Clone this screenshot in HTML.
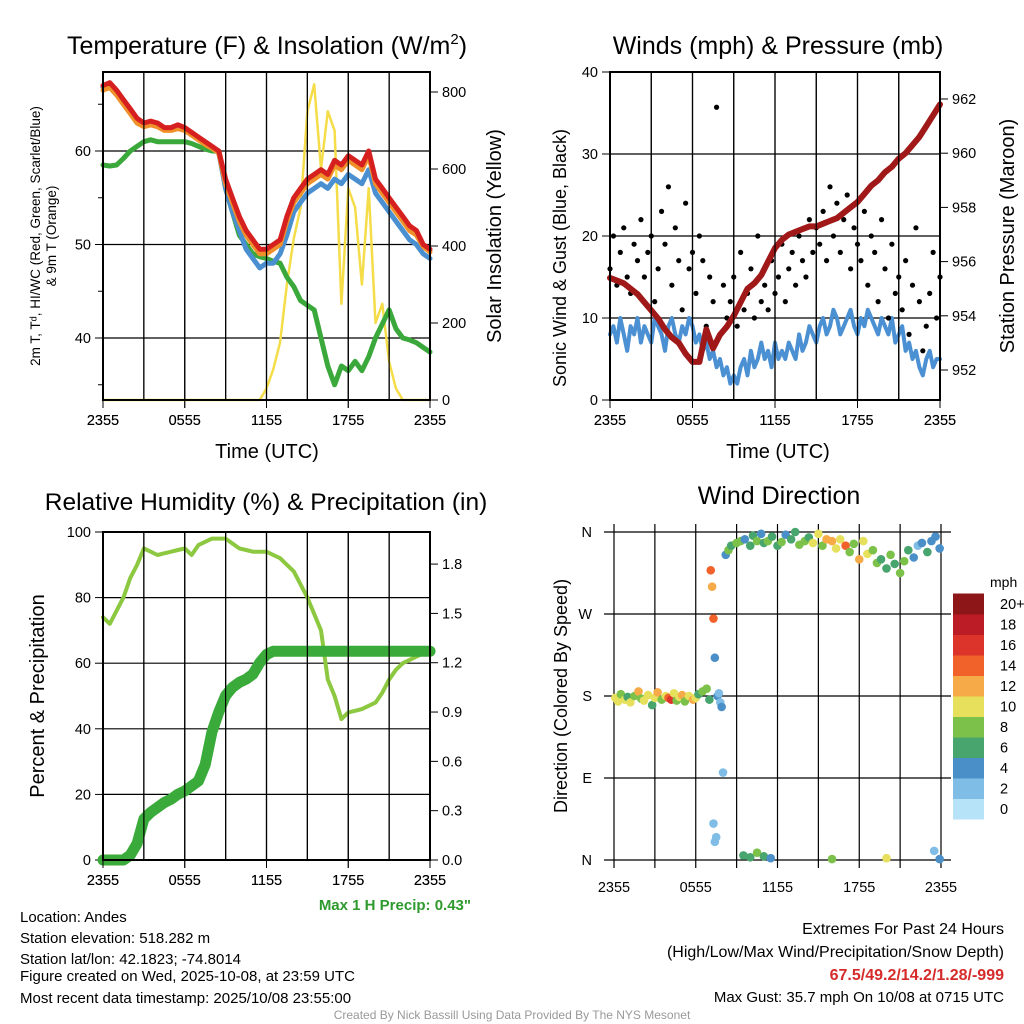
<!DOCTYPE html>
<html><head><meta charset="utf-8"><style>
body{margin:0;background:#fff;}
svg{display:block;font-family:"Liberation Sans",sans-serif;}
</style></head><body>
<svg id="s" width="1024" height="1024" viewBox="0 0 1024 1024">
<text x="267" y="54" font-size="25" text-anchor="middle">Temperature (F) &amp; Insolation (W/m<tspan font-size="15" dy="-10">2</tspan><tspan dy="10">)</tspan></text>
<text x="778" y="54" font-size="25" text-anchor="middle">Winds (mph) &amp; Pressure (mb)</text>
<text x="266" y="510" font-size="24.5" text-anchor="middle">Relative Humidity (%) &amp; Precipitation (in)</text>
<text x="779" y="504" font-size="25" text-anchor="middle">Wind Direction</text>
<g id="g"></g>
<text x="20" y="922" font-size="15">Location: Andes</text>
<text x="20" y="943" font-size="15">Station elevation: 518.282 m</text>
<text x="20" y="964" font-size="15">Station lat/lon: 42.1823; -74.8014</text>
<text x="20" y="981" font-size="15">Figure created on Wed, 2025-10-08, at 23:59 UTC</text>
<text x="20" y="1003" font-size="15">Most recent data timestamp: 2025/10/08 23:55:00</text>
<text x="471" y="910" font-size="15" font-weight="bold" fill="#2e9a2e" text-anchor="end">Max 1 H Precip: 0.43"</text>
<text x="1004" y="934" font-size="16" text-anchor="end">Extremes For Past 24 Hours</text>
<text x="1004" y="957" font-size="16" text-anchor="end">(High/Low/Max Wind/Precipitation/Snow Depth)</text>
<text x="1004" y="980" font-size="16" font-weight="bold" fill="#d52b2b" text-anchor="end">67.5/49.2/14.2/1.28/-999</text>
<text x="1004" y="1002" font-size="15" text-anchor="end">Max Gust: 35.7 mph On 10/08 at 0715 UTC</text>
<text x="512" y="1019" font-size="12" fill="#999" text-anchor="middle">Created By Nick Bassill Using Data Provided By The NYS Mesonet</text>
</svg>
<script>
// ---- data (half-hourly, hours since 2355) ----
const tempRed=[67,67.3,66.5,65.5,64.5,63.5,63,63.2,63,62.5,62.5,62.8,62.5,62,61.5,61,60.5,60,57,55,53,51.5,50.5,49.5,49.5,50,50.5,53,55,56,57,57.5,58,57.5,59,58.5,59.5,59,58.5,60,57,56,55,54,53,52,51.5,50,49.5];
const tempOrange=[66.5,66.8,66,65,64,63,62.6,62.8,62.6,62.2,62.2,62.4,62.2,61.7,61.2,60.7,60.3,59.8,56.5,54.5,52.5,51,50,49,49,49.5,50,52.5,54.5,55.5,56.5,57,57.5,57,58.5,58,59,58.5,58,59.5,56.5,55.5,54.5,53.5,52.5,51.5,51,49.8,49.2];
const tempBlue=[66.8,67,66.2,65.2,64.2,63.2,62.8,63,62.8,62.3,62.3,62.6,62.3,61.8,61.3,60.8,60.3,59.8,56,53.5,51.5,49.5,48.5,47.5,48,48,49,51,53.5,54.5,55.5,56,56.5,56,57,56.5,57.5,57,56.5,58,55.5,54.5,53.5,52.5,51.5,50.5,50,49,48.5];
const tempGreen=[58.5,58.4,58.5,59.2,60,60.5,61,61.2,61,61,61,61,61,60.8,60.5,60.2,60,60,56,53.5,51,50,49,48.7,48.5,48.2,48,46.5,45.5,44,43.5,43,40,37,35,37,36.5,37.5,36.5,38,40,41.5,43,41,40,39.8,39.5,39,38.5];
const solar=[0,0,0,0,0,0,0,0,0,0,0,0,0,0,0,0,0,0,0,0,0,0,0,0,30,80,150,300,420,500,750,820,600,750,700,250,550,500,300,550,200,250,100,30,0,0,0,0,0];
const pressure=[955.4,955.3,955.2,955,954.8,954.5,954.2,953.9,953.5,953.2,953,952.6,952.3,952.3,953.5,952.8,953.3,953.6,954,954.5,955,955.2,955.5,956,956.5,956.8,957,957.1,957.2,957.3,957.3,957.4,957.5,957.6,957.8,958,958.2,958.5,958.8,959,959.3,959.5,959.8,960,960.3,960.6,961,961.4,961.8];
const rh=[74,72,76,80,86,90,95,94,93,93.5,94,94.5,95,93,96,97,98,98,98,96.5,95,94.5,94,94,94,93,92,90,88,84,80,75,70,55,50,43,45,45.5,46,47,48,51,55,58,60,61,62,63,64];
const precip=[0,0,0,0,0.03,0.1,0.25,0.29,0.32,0.35,0.37,0.4,0.42,0.45,0.48,0.58,0.78,0.9,1.0,1.05,1.08,1.1,1.13,1.2,1.25,1.27,1.27,1.27,1.27,1.27,1.27,1.27,1.27,1.27,1.27,1.27,1.27,1.27,1.27,1.27,1.27,1.27,1.27,1.27,1.27,1.27,1.27,1.27,1.27];
// quarter-hourly winds
const wind=[8,9,7,10,8,6,9,8,10,7,9,8,7,10,9,8,6,9,10,8,7,9,8,10,9,7,8,6,7,5,6,4,5,3,4,2,3,2,4,5,3,6,4,5,7,5,6,4,7,5,6,5,7,6,5,8,6,7,9,8,7,9,10,8,9,11,10,8,9,10,11,9,8,10,9,11,10,9,8,10,9,8,10,7,8,9,6,7,5,6,4,3,5,6,4,5,5];
const gust=[16,20,14,18,21,15,13,19,17,22,15,18,20,12,16,23,19,26,14,21,17,11,24,16,18,13,20,17,9,15,12,35.7,8,14,10,12,15,9,18,11,13,16,10,20,12,14,11,17,13,15,19,12,16,18,14,20,17,15,22,18,21,19,23,17,26,20,24,18,22,25,16,21,19,17,23,14,20,18,12,22,16,10,19,13,15,11,17,8,14,21,12,6,9,13,18,10,15];
const dirT=[0.1,0.3,0.5,0.8,1,1.2,1.5,1.8,2,2.2,2.5,2.8,3,3.2,3.5,3.8,4,4.2,4.4,4.6,4.8,5,5.2,5.5,5.8,6,6.2,6.5,6.8,7,7.1,7.2,7.3,7.4,7.6,7.7,7.8,7.9,8,8.2,8.4,8.6,9,9.3,9.6,10,10.2,10.5,10.8,11,11.3,11.6,12,12.3,12.6,13,13.3,13.6,14,14.3,14.6,15,15.3,15.6,16,16.3,16.6,17,17.3,17.6,18,18.3,18.6,19,19.3,19.6,20,20.3,20.6,21,21.3,21.6,22,22.3,22.6,23,23.3,23.6,23.9,9.5,10,10.5,11,11.5,16,20,23.5,23.9,7.3,7.4,7.5];
const dirV=[178,174,182,176,179,173,180,185,177,175,181,170,178,184,176,180,178,176,183,175,179,181,174,180,176,178,182,185,188,176,318,300,265,222,180,183,173,168,96,335,340,345,348,350,352,345,356,350,358,348,350,355,345,349,357,352,360,346,350,354,348,358,345,352,350,342,352,345,338,347,330,350,336,340,326,330,320,335,325,315,328,340,332,345,348,338,350,355,342,5,3,8,4,2,1,2,10,1,40,20,25];
const dirS=[9,10,7,9,6,10,8,11,7,9,10,6,10,11,8,9,13,15,10,7,9,11,8,10,12,9,6,8,7,5,14,12,13,4,4,2,1,3,2,3,7,6,7,8,4,6,5,7,4,6,8,5,6,7,4,6,5,8,7,6,9,10,8,11,12,10,9,13,8,7,12,10,9,7,7,6,5,8,6,8,7,6,4,2,4,5,4,3,4,6,5,7,6,3,8,10,2,4,2,1,2];
const dirLabels=['N','E','S','W','N'];
const speedColors=['#b6e3f8','#7fbde6','#4a8fc7','#48a56e','#7cc24a','#e6e05c','#f7ab48','#f0622a','#dc342a','#bb1c25','#8d1618'];
const speedLabels=['0','2','4','6','8','10','12','14','16','18','20+'];

const NS='http://www.w3.org/2000/svg';
const G=document.getElementById('g');
function mk(tag,at,parent){const e=document.createElementNS(NS,tag);for(const k in at)e.setAttribute(k,at[k]);(parent||G).appendChild(e);return e;}
function txt(x,y,s,size,anchor,extra){const e=mk('text',Object.assign({x:x,y:y,'font-size':size,'text-anchor':anchor||'middle'},extra||{}));e.textContent=s;return e;}
const half=i=>i*0.5, qtr=i=>i*0.25;
const xlabels=['2355','0555','1155','1755','2355'];

function frame(x0,x1,y0,y1,name,box){
  for(let h=3;h<24;h+=3){const x=x0+(x1-x0)*h/24;const l=mk('line',{x1:x,x2:x,y1:y0,y2:y1,stroke:'#000','stroke-width':1.2});
  
  }
  for(let i=0;i<5;i++){const x=x0+(x1-x0)*i/4;const l=mk('line',{x1:x,x2:x,y1:y1,y2:y1+8,stroke:'#000','stroke-width':1});
  
  
  const t=txt(x,y1+25,xlabels[i],14.5);
  
  }
  if(box){const r=mk('rect',{x:x0,y:y0,width:x1-x0,height:y1-y0,fill:'none',stroke:'#000','stroke-width':2});
  
  }
}
function hline(x0,x1,y){const l=mk('line',{x1:x0,x2:x1,y1:y,y2:y,stroke:'#000','stroke-width':1.2});

}
function ytick(x,y,s,side){const d=side<0?-8:8;const l=mk('line',{x1:x,x2:x+d,y1:y,y2:y,stroke:'#000'});


const t=txt(x+(side<0?-12:12),y+5,s,14.5,side<0?'end':'start');

}
function path(arr,tf,xs,ys,color,w,name){let d='';arr.forEach((v,i)=>{d+=(i?'L':'M')+xs(tf(i)).toFixed(1)+','+ys(v).toFixed(1);});
const p=mk('path',{d:d,fill:'none',stroke:color,'stroke-width':w,'stroke-linejoin':'round','stroke-linecap':'round'});

return p;}

// ---- Panel 1 ----
{const x0=103,x1=430,y0=72,y1=400;
const xs=h=>x0+(x1-x0)*h/24;
const ys=v=>151+(60-v)*9.35;
const ysr=v=>400-v*0.385;
[60,50,40].forEach(v=>{hline(x0,x1,ys(v));ytick(x0,ys(v),String(v),-1);});
[65,55,45,35].forEach(v=>{const l=mk('line',{x1:x0,x2:x0-5,y1:ys(v),y2:ys(v),stroke:'#000'});});
[0,200,400,600,800].forEach(v=>ytick(x1,ysr(v),String(v),1));
frame(x0,x1,y0,y1,'temp',false);
path(solar,half,xs,ysr,'#f5dd4a',2.5,'solar-line');
path(tempGreen,half,xs,ys,'#3aa83a',5,'dewpoint-line');
path(tempBlue,half,xs,ys,'#4a8fd0',5,'windchill-line');
path(tempOrange,half,xs,ys,'#f0902a',5,'temp9m-line');
path(tempRed,half,xs,ys,'#d62020',5,'temp2m-line');
frame(x0,x1,y0,y1,'temp',true);
let t=txt(267,458,'Time (UTC)',20);
t=mk('text',{x:0,y:0,'font-size':13.5,'text-anchor':'middle',transform:'translate(40,236) rotate(-90)'});t.textContent='2m T, T\u1D48, HI/WC (Red, Green, Scarlet/Blue)';

t=mk('text',{x:0,y:0,'font-size':13.5,'text-anchor':'middle',transform:'translate(56,236) rotate(-90)'});t.textContent='& 9m T (Orange)';

t=mk('text',{x:0,y:0,'font-size':20,'text-anchor':'middle',transform:'translate(501,236) rotate(-90)'});t.textContent='Solar Insolation (Yellow)';
}

// ---- Panel 2 ----
{const x0=610,x1=940,y0=72,y1=400;
const xs=h=>x0+(x1-x0)*h/24;
const ys=v=>400-v*8.2;
const ysp=p=>99+(962-p)*27.1;
[10,20,30].forEach(v=>hline(x0,x1,ys(v)));
[0,10,20,30,40].forEach(v=>ytick(x0,ys(v),String(v),-1));
[952,954,956,958,960,962].forEach(v=>ytick(x1,ysp(v),String(v),1));
frame(x0,x1,y0,y1,'wind',false);
path(wind,qtr,xs,ys,'#4a90d2',4,'wind-speed-line');
gust.forEach((v,i)=>{const c=mk('circle',{cx:xs(qtr(i)),cy:ys(v),r:2.6,fill:'#000'});

});
path(pressure,half,xs,ysp,'#a01818',6,'pressure-line');
frame(x0,x1,y0,y1,'wind',true);
let t=txt(778,458,'Time (UTC)',20);
t=mk('text',{x:0,y:0,'font-size':18,'text-anchor':'middle',transform:'translate(566,258) rotate(-90)'});t.textContent='Sonic Wind & Gust (Blue, Black)';

t=mk('text',{x:0,y:0,'font-size':20,'text-anchor':'middle',transform:'translate(1014,236) rotate(-90)'});t.textContent='Station Pressure (Maroon)';
}

// ---- Panel 3 ----
{const x0=103,x1=430,y0=532,y1=860;
const xs=h=>x0+(x1-x0)*h/24;
const ys=v=>860-v*3.28;
const ysr=v=>860-v*164.4;
[20,40,60,80].forEach(v=>hline(x0,x1,ys(v)));
[0,20,40,60,80,100].forEach(v=>ytick(x0,ys(v),String(v),-1));
[0,0.3,0.6,0.9,1.2,1.5,1.8].forEach(v=>ytick(x1,ysr(v),v.toFixed(1),1));
frame(x0,x1,y0,y1,'rh',false);
path(rh,half,xs,ys,'#8cc840',4,'rh-line');
path(precip,half,xs,ysr,'#3aaa3a',11,'precip-line');
frame(x0,x1,y0,y1,'rh',true);
let t=mk('text',{x:0,y:0,'font-size':20,'text-anchor':'middle',transform:'translate(44,696) rotate(-90)'});t.textContent='Percent & Precipitation';
}

// ---- Panel 4 ----
{const x0=614,x1=941,y0=532,y1=860;
const xs=h=>x0+(x1-x0)*h/24;
const ys=d=>860-d/360*328;
[0,90,180,270,360].forEach((d,i)=>{hline(x0-10,x1+10,ys(d));
const t=txt(x0-22,ys(d)+5,dirLabels[i],14.5,'end');});
for(let h=0;h<=24;h+=3){const x=xs(h);const l=mk('line',{x1:x,x2:x,y1:y0-8,y2:y1+8,stroke:'#000','stroke-width':1.2});}
for(let i=0;i<5;i++){const t=txt(xs(i*6),y1+32,xlabels[i],14.5);}
dirT.forEach((h,i)=>{const ci=Math.min(10,Math.round(dirS[i]/2));const c=mk('circle',{cx:xs(h),cy:ys(dirV[i]),r:4.3,fill:speedColors[ci]});

});
let t=mk('text',{x:0,y:0,'font-size':18,'text-anchor':'middle',transform:'translate(567,696) rotate(-90)'});t.textContent='Direction (Colored By Speed)';

t=txt(990,587,'mph',14,'start');
const cb0=819,ch=20.5;
speedColors.forEach((c,i)=>{const r=mk('rect',{x:953,y:cb0-(i+1)*ch,width:31,height:ch+0.5,fill:c});


const tl=txt(1000,cb0-(i+0.5)*ch+5,speedLabels[i],14.5,'start');

});}
</script>
</body></html>
